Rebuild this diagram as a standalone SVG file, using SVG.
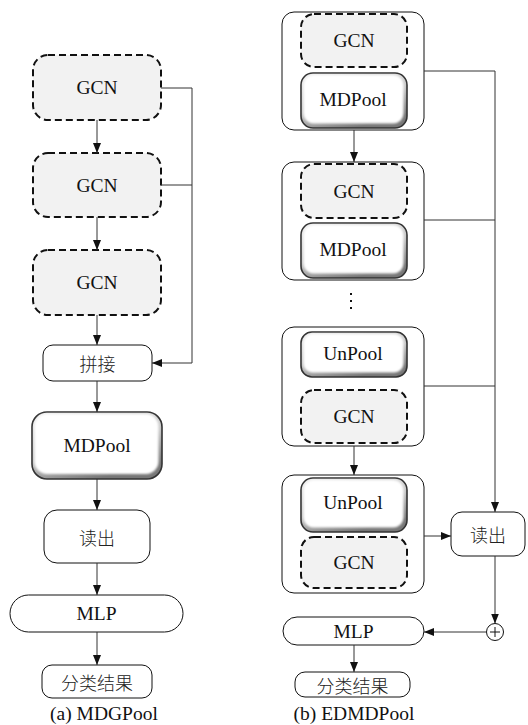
<svg xmlns="http://www.w3.org/2000/svg" width="528" height="725" viewBox="0 0 528 725">
  <style>
    .t { font-family: 'Liberation Serif', 'Times New Roman', 'DejaVu Serif', serif; font-size: 19.5px; fill: #111; text-anchor: middle; dominant-baseline: central; }
    .zh { font-family: 'Noto Sans CJK SC', sans-serif; font-size: 18px; font-weight: 300; fill: #222; text-anchor: middle; dominant-baseline: central; }
    .gcn { fill: #f2f2f2; stroke: #111; stroke-width: 2; stroke-dasharray: 7 4; }
    .plain { fill: #fff; stroke: #111; stroke-width: 1; }
    .outer { fill: #fff; stroke: #111; stroke-width: 1; }
    .bevel { fill: url(#bevelGrad); stroke: #333; stroke-width: 1.6; }
    .face { fill: #fff; filter: url(#soft); }
    .wire { fill: none; stroke: #333; stroke-width: 1; }
    .arrow { fill: none; stroke: #333; stroke-width: 1; marker-end: url(#head); }
  </style>
  <defs>
    <marker id="head" markerUnits="userSpaceOnUse" markerWidth="10" markerHeight="8" refX="10" refY="4" orient="auto">
      <path d="M0,0 L10,4 L0,8 z" fill="#111"/>
    </marker>
    <linearGradient id="bevelGrad" x1="0" y1="0" x2="0.5" y2="1">
      <stop offset="0" stop-color="#f0f0f0"/>
      <stop offset="0.6" stop-color="#c8c8c8"/>
      <stop offset="1" stop-color="#777"/>
    </linearGradient>
    <filter id="soft" x="-10%" y="-10%" width="120%" height="120%">
      <feGaussianBlur stdDeviation="1.2"/>
    </filter>
  </defs>

  <!-- (a) MDGPool -->
  <g id="a-gcn1"><rect class="gcn" x="33" y="55" width="128" height="65" rx="15"/><text class="t" x="97" y="87.5">GCN</text></g>
  <g id="a-gcn2"><rect class="gcn" x="33" y="153" width="128" height="64" rx="15"/><text class="t" x="97" y="185">GCN</text></g>
  <g id="a-gcn3"><rect class="gcn" x="33" y="250" width="128" height="65" rx="15"/><text class="t" x="97" y="282.5">GCN</text></g>
  <g id="a-concat"><rect class="plain" x="43" y="345" width="109" height="36" rx="10"/><text class="zh" x="97.5" y="363">拼接</text></g>
  <g id="a-mdpool">
    <rect class="bevel" x="32" y="412" width="130" height="67" rx="15"/>
    <rect class="face" x="34.5" y="414" width="124" height="60" rx="12.5"/>
    <text class="t" x="97" y="445">MDPool</text>
  </g>
  <g id="a-readout"><rect class="plain" x="44" y="510" width="106" height="53" rx="13"/><text class="zh" x="97" y="536.5">读出</text></g>
  <g id="a-mlp"><rect class="plain" x="10" y="595" width="173" height="37" rx="18.5"/><text class="t" x="96.5" y="613.5">MLP</text></g>
  <g id="a-result"><rect class="plain" x="42" y="665" width="110" height="33" rx="10"/><text class="zh" x="97" y="681.5">分类结果</text></g>
  <text id="a-caption" class="t" x="104" y="713">(a) MDGPool</text>

  <!-- (b) EDMDPool -->
  <g id="b-block1">
    <rect class="outer" x="282" y="12" width="142" height="118" rx="12"/>
    <rect class="gcn" x="301" y="14" width="106" height="53" rx="13"/>
    <text class="t" x="354" y="40.5">GCN</text>
    <rect class="bevel" x="301" y="73" width="106" height="55" rx="12"/>
    <rect class="face" x="303.5" y="75" width="100" height="48.5" rx="10"/>
    <text class="t" x="353" y="99.5">MDPool</text>
  </g>
  <g id="b-block2">
    <rect class="outer" x="282" y="162" width="142" height="118" rx="12"/>
    <rect class="gcn" x="301" y="164" width="106" height="54" rx="13"/>
    <text class="t" x="354" y="191">GCN</text>
    <rect class="bevel" x="301" y="223" width="106" height="55" rx="12"/>
    <rect class="face" x="303.5" y="225" width="100" height="48.5" rx="10"/>
    <text class="t" x="353" y="249.5">MDPool</text>
  </g>
  <g id="b-ellipsis" fill="#111">
    <rect x="350" y="293" width="2" height="2"/>
    <rect x="350" y="300" width="2" height="2"/>
    <rect x="350" y="307" width="2" height="2"/>
  </g>
  <g id="b-block3">
    <rect class="outer" x="282" y="327" width="142" height="119" rx="12"/>
    <rect class="bevel" x="301" y="332" width="106" height="45" rx="11"/>
    <rect class="face" x="303.5" y="334" width="100" height="38.5" rx="9"/>
    <text class="t" x="353" y="353">UnPool</text>
    <rect class="gcn" x="301" y="390" width="106" height="53" rx="13"/>
    <text class="t" x="354" y="416.5">GCN</text>
  </g>
  <g id="b-block4">
    <rect class="outer" x="282" y="475" width="142" height="118" rx="12"/>
    <rect class="bevel" x="301" y="478" width="106" height="54" rx="12"/>
    <rect class="face" x="303.5" y="480" width="100" height="47.5" rx="10"/>
    <text class="t" x="353" y="502">UnPool</text>
    <rect class="gcn" x="301" y="537" width="106" height="51" rx="13"/>
    <text class="t" x="354" y="562.5">GCN</text>
  </g>
  <g id="b-readout"><rect class="plain" x="451" y="512" width="74" height="44" rx="11"/><text class="zh" x="488" y="534">读出</text></g>
  <g id="b-sum">
    <circle cx="495" cy="632" r="8.5" fill="#fff" stroke="#111" stroke-width="1"/>
    <path d="M490,632 H500 M495,627 V637" stroke="#111" stroke-width="1"/>
  </g>
  <g id="b-mlp"><rect class="plain" x="283" y="617" width="141" height="28" rx="14"/><text class="t" x="353.5" y="631">MLP</text></g>
  <g id="b-result"><rect class="plain" x="295" y="672" width="115" height="25" rx="10"/><text class="zh" x="352.5" y="684.5">分类结果</text></g>
  <text id="b-caption" class="t" x="354" y="713">(b) EDMDPool</text>

  <!-- connectors -->
  <g id="connectors">
    <!-- (a) main chain -->
    <path class="arrow" d="M97,120 V153"/>
    <path class="arrow" d="M97,217 V250"/>
    <path class="arrow" d="M97,315 V345"/>
    <path class="arrow" d="M97,381 V412"/>
    <path class="arrow" d="M97,479 V510"/>
    <path class="arrow" d="M97,563 V595"/>
    <path class="arrow" d="M97,632 V665"/>
    <!-- (a) skip outputs into concatenation -->
    <path class="wire" d="M161,88 H192 M161,185 H192"/>
    <path class="arrow" d="M192,88 V363 H152"/>
    <!-- (b) main chain -->
    <path class="arrow" d="M354,130 V162"/>
    <path class="arrow" d="M354,446 V475"/>
    <path class="arrow" d="M424,536 H451"/>
    <path class="arrow" d="M354,645 V672"/>
    <!-- (b) block outputs into readout -->
    <path class="wire" d="M424,71 H495 M424,220 H495 M424,386 H495"/>
    <path class="arrow" d="M495,71 V512"/>
    <path class="arrow" d="M495,556 V623.5"/>
    <path class="arrow" d="M486.5,632 H424"/>
  </g>
</svg>
